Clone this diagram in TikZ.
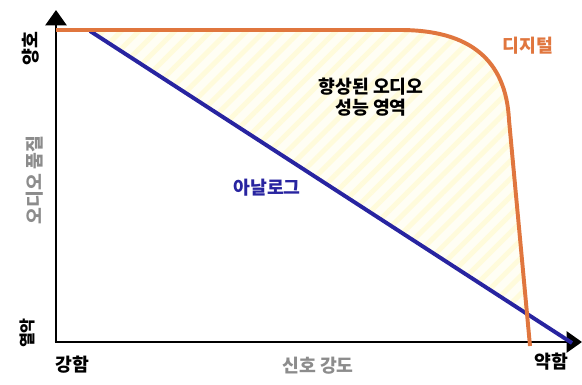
\documentclass[tikz,border=0pt]{standalone}
\usepackage{fontspec}
\setmainfont{Noto Sans CJK KR}
\usepackage{tikz}
\usetikzlibrary{arrows.meta,patterns.meta}

\definecolor{digital}{RGB}{224,118,62}
\definecolor{analog}{RGB}{40,36,160}
\definecolor{hatch}{RGB}{255,250,210}
\definecolor{axislabel}{RGB}{140,140,140}

\begin{document}
\begin{tikzpicture}[x=0.025cm,y=-0.025cm,
    lbl/.style={font=\fontsize{13}{15}\selectfont\bfseries, inner sep=0pt},
    glbl/.style={lbl, text=axislabel},
    axis/.style={line width=2pt, -{Triangle[length=11pt,width=15pt]}},
    curve/.style={line width=2.8pt, line join=round}]
  \useasboundingbox (0,0) rectangle (582,385);
  \coordinate (O) at (56,342);
  \coordinate (ytop) at (56,10);
  \coordinate (xend) at (582,342);
  \coordinate (dstart) at (56,30);
  \coordinate (dbend) at (400,30);
  \coordinate (dknee) at (509,120);
  \coordinate (dend) at (530,346);
  \coordinate (astart) at (90,31);
  \coordinate (aend) at (572,343);
  \coordinate (cross) at (527,314);

  % improved region between the two curves
  \fill[hatch!25] (astart) -- (dbend) .. controls (470,30) and (506,60) .. (dknee) -- (cross) -- cycle;
  \fill[pattern={Lines[angle=45,distance=9pt,line width=3.5pt]}, pattern color=hatch!80]
    (astart) -- (dbend) .. controls (470,30) and (506,60) .. (dknee) -- (cross) -- cycle;

  \draw[axis] (O) -- (ytop);
  \draw[axis] ([xshift=-1pt]O) -- (xend);

  \draw[curve, analog] (astart) -- (aend);
  \draw[curve, digital] (dstart) -- (dbend) .. controls (470,30) and (506,60) .. (dknee) -- (dend);

  \node[lbl, rotate=90] (good) at (31,49) {양호};
  \node[glbl, rotate=90] (quality) at (35,180) {오디오 품질};
  \node[lbl, rotate=90, font=\fontsize{11.5}{14}\selectfont\bfseries] (poor) at (27,333) {열악};
  \node[lbl] (strong) at (72,365) {강함};
  \node[glbl] (signal) at (318,366) {신호 강도};
  \node[lbl] (weak) at (551,362) {약함};
  \node[lbl, text=digital] (digilbl) at (528,46) {디지털};
  \node[lbl, text=analog] (analbl) at (267,188) {아날로그};
  \node[lbl, align=center] (region) at (371,97) {향상된 오디오\\성능 영역};
\end{tikzpicture}
\end{document}
